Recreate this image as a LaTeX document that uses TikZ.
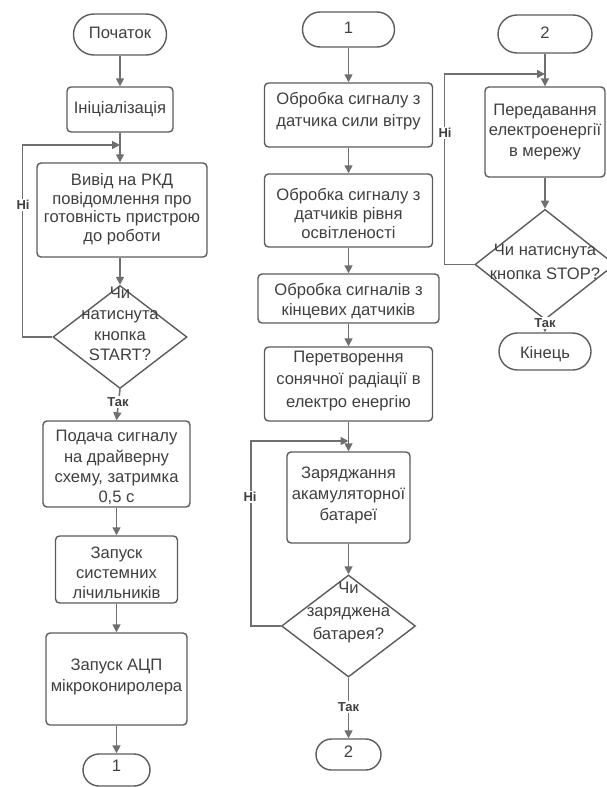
\documentclass[tikz,border=0pt]{standalone}
\usepackage{fontspec}
\setmainfont{Liberation Sans}
\usetikzlibrary{shapes.geometric,arrows.meta}
\definecolor{linec}{HTML}{6F6F6F}
\definecolor{boxc}{HTML}{5C5C5C}
\definecolor{textc}{HTML}{404040}
% #1 = downward shift of the text block (pt), #2 = line spacing, #3 = lines
\newcommand\btext[3]{\raisebox{\dimexpr -#1pt - 4pt\relax}[0pt][0pt]{\fontsize{16.6}{#2}\selectfont\begin{tabular}{@{}c@{}}#3\end{tabular}}}
\tikzset{
  box/.style={draw=boxc, line width=1.4pt, rounded corners=4pt, fill=white, inner sep=0pt, text=textc},
  dia/.style={diamond, draw=boxc, line width=1.4pt, fill=white, inner sep=0pt, text=textc},
  conn/.style={draw=linec, line width=1.6pt, -{Triangle[length=8pt,width=8pt]}},
  lab/.style={fill=white, inner sep=1pt, text=textc, font=\bfseries\fontsize{13}{13}\selectfont}
}
\begin{document}
\begin{tikzpicture}[x=1pt,y=-1pt]
\fill[white] (0,0) rectangle (607,787);
\useasboundingbox (0,0) rectangle (607,787);

% ---------- left column ----------
\node[box, minimum width=93pt, minimum height=41pt, rounded corners=20.5pt] (t1) at (120,34.5) {\btext{0}{20}{Початок}};
\node[box, minimum width=106pt, minimum height=45pt] (b1) at (120,109.5) {\btext{0}{20}{Ініціалізація}};
\node[box, minimum width=170pt, minimum height=94pt] (b2) at (122,210) {\btext{0}{18.5}{Вивід на РКД\\повідомлення про\\готовність пристрою\\до роботи}};
\node[dia, minimum width=134pt, minimum height=103pt] (d1) at (120,337) {\btext{-11}{20.7}{Чи\\натиснута\\кнопка\\START?}};
\node[box, minimum width=147pt, minimum height=86pt] (b3) at (116.5,464) {\btext{4.5}{20.3}{Подача сигналу\\на драйверну\\схему, затримка\\0,5 с}};
\node[box, minimum width=122pt, minimum height=67pt] (b4) at (116.5,569.5) {\btext{5.5}{20}{Запуск\\системних\\лічильників}};
\node[box, minimum width=141pt, minimum height=92pt] (b5) at (116.5,679) {\btext{-1.5}{21}{Запуск АЦП\\мікрокониролера}};
\node[box, minimum width=67pt, minimum height=32pt, rounded corners=16pt] (t2) at (116.5,770) {\btext{-2}{20}{1}};

\coordinate (j1) at (120,145);
\draw[conn] (t1.south) -- (b1.north);
\draw[conn] (b1.south) -- (b1.south |- b2.north);
\draw[conn] (b2.south -| d1.north) -- (d1.north);
\draw[conn] (d1.west) -- ++(-30,0) |- (j1);
\draw[conn] (d1.south) -- (b3.north);
\draw[conn] (b3.south) -- (b4.north);
\draw[conn] (b4.south) -- (b5.north);
\draw[conn] (b5.south) -- (t2.north);
\node[lab] (n1) at (23,205) {Ні};
\node[lab] (y1) at (118,402) {Так};

% ---------- middle column ----------
\node[box, minimum width=92pt, minimum height=35pt, rounded corners=17.5pt] (t3) at (348.5,29.5) {\btext{0}{20}{1}};
\node[box, minimum width=168pt, minimum height=64pt] (m1) at (348.5,115) {\btext{-4}{22}{Обробка сигналу з\\датчика сили вітру}};
\node[box, minimum width=168pt, minimum height=73pt] (m2) at (348.5,210.5) {\btext{5.5}{19}{Обробка сигналу з\\датчиків рівня\\освітленості}};
\node[box, minimum width=181pt, minimum height=49pt] (m3) at (348.5,298.5) {\btext{3.5}{20}{Обробка сигналів з\\кінцевих датчиків}};
\node[box, minimum width=168pt, minimum height=74pt] (m4) at (348.5,384) {\btext{-3.5}{22.5}{Перетворення\\сонячної радіації в\\електро енергію}};
\node[box, minimum width=123pt, minimum height=91pt] (m5) at (348.5,497.5) {\btext{-1.5}{21}{Заряджання\\акамуляторної\\батареї}};
\node[dia, minimum width=134pt, minimum height=102pt] (d2) at (348.5,626) {\btext{-14}{23}{Чи\\заряджена\\батарея?}};
\node[box, minimum width=65pt, minimum height=31pt, rounded corners=15.5pt] (t4) at (348.5,754.5) {\btext{-1}{20}{2}};

\coordinate (j2) at (348.5,441);
\draw[conn] (t3.south) -- (m1.north);
\draw[conn] (m1.south) -- (m2.north);
\draw[conn] (m2.south) -- (m3.north);
\draw[conn] (m3.south) -- (m4.north);
\draw[conn] (m4.south) -- (m5.north);
\draw[conn] (m5.south) -- (d2.north);
\draw[conn] (d2.west) -- ++(-30,0) |- (j2);
\draw[conn] (d2.south) -- (t4.north);
\node[lab] (n2) at (250,497) {Ні};
\node[lab] (y2) at (348.5,707) {Так};

% ---------- right column ----------
\node[box, minimum width=94pt, minimum height=38pt, rounded corners=19pt] (t5) at (545,34) {\btext{1}{20}{2}};
\node[box, minimum width=120pt, minimum height=90pt] (r1) at (545,132) {\btext{0}{20.5}{Передавання\\електроенергії\\в мережу}};
\node[dia, minimum width=140pt, minimum height=101pt] (d3) at (545,264.5) {\btext{-1.5}{24}{Чи натиснута\\кнопка STOP?}};
\node[box, minimum width=92pt, minimum height=37pt, rounded corners=18.5pt] (t6) at (545,351.5) {\btext{3.5}{20}{Кінець}};

\coordinate (j3) at (545,74);
\draw[conn] (t5.south) -- (r1.north);
\draw[conn] (d3.west) -- ++(-30,0) |- (j3);
\draw[conn] (r1.south) -- (d3.north);
\draw[conn] (d3.south) -- (t6.north);
\node[lab] (n3) at (445,133) {Ні};
\node[lab] (y3) at (545,323) {Так};
\end{tikzpicture}
\end{document}
